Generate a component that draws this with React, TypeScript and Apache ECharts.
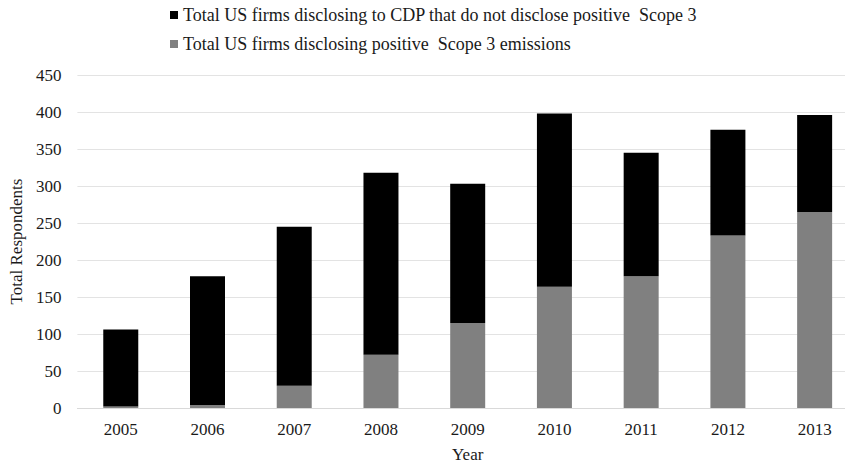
import React, { useEffect, useRef } from "react";
import * as echarts from "echarts";

const years = ["2005", "2006", "2007", "2008", "2009", "2010", "2011", "2012", "2013"];
const positiveScope3 = [2, 4, 30, 72, 115, 164, 178, 233, 265];
const notPositive = [104, 174, 215, 246, 188, 234, 167, 143, 131];
const seriesNames = [
  "Total US firms disclosing to CDP that do not disclose positive  Scope 3",
  "Total US firms disclosing positive  Scope 3 emissions",
];
const seriesColors = ["#000000", "#808080"];
const yMin = 0;
const yMax = 450;
const yInterval = 50;

const FONT = "Liberation Serif";
const TEXT = "#1a1a1a";

export default function App() {
  const ref = useRef<HTMLDivElement>(null);
  useEffect(() => {
    if (!ref.current) return;
    const chart = echarts.init(ref.current, undefined, { renderer: "svg" });
    chart.setOption({
      animation: false,
      textStyle: { fontFamily: FONT, color: TEXT },
      legend: {
        data: [seriesNames[0], seriesNames[1]],
        orient: "vertical",
        left: 165,
        top: 1,
        itemWidth: 8,
        itemHeight: 8,
        itemGap: 11,
        icon: "rect",
        selectedMode: false,
        textStyle: { fontFamily: FONT, fontSize: 18, color: TEXT },
      },
      grid: { left: 76, right: 0, top: 75, bottom: 56, containLabel: false },
      xAxis: {
        type: "category",
        data: years,
        name: "Year",
        nameLocation: "middle",
        nameGap: 38,
        nameTextStyle: { fontFamily: FONT, fontSize: 17, color: TEXT },
        axisLine: { show: true, lineStyle: { color: "#d9d9d9", width: 1 } },
        axisTick: { show: false },
        axisLabel: { fontFamily: FONT, fontSize: 17, color: TEXT, margin: 13 },
      },
      yAxis: {
        type: "value",
        min: yMin,
        max: yMax,
        interval: yInterval,
        name: "Total Respondents",
        nameLocation: "middle",
        nameGap: 52,
        nameTextStyle: { fontFamily: FONT, fontSize: 17, color: TEXT },
        axisLine: { show: false },
        axisTick: { show: false },
        axisLabel: { fontFamily: FONT, fontSize: 17, color: TEXT, margin: 16 },
        splitLine: { lineStyle: { color: "#e3e3e3", width: 1 } },
      },
      series: [
        {
          name: seriesNames[1],
          type: "bar",
          stack: "total",
          data: positiveScope3,
          barWidth: 35,
          itemStyle: { color: seriesColors[1] },
        },
        {
          name: seriesNames[0],
          type: "bar",
          stack: "total",
          data: notPositive,
          barWidth: 35,
          itemStyle: { color: seriesColors[0] },
        },
      ],
    });
    return () => chart.dispose();
  }, []);
  return (
    <div
      style={{ position: "fixed", left: 0, top: 0, width: 845, height: 468, overflow: "hidden", background: "#fff" }}
    >
      <div ref={ref} style={{ width: 858, height: 468 }} />
    </div>
  );
}
